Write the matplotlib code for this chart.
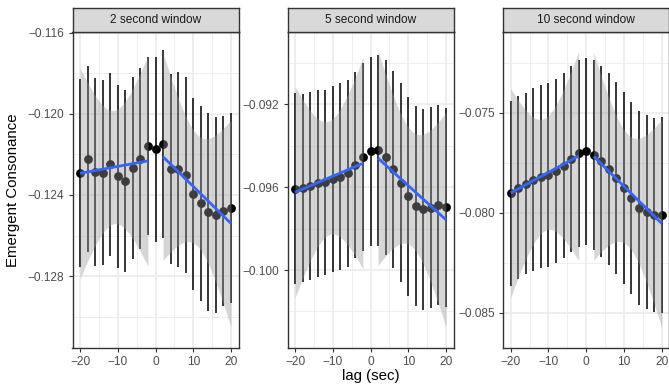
import numpy as np
import matplotlib
matplotlib.use("Agg")
import matplotlib.pyplot as plt
from matplotlib.ticker import FixedLocator, FuncFormatter

plt.rcParams['font.family'] = ['Liberation Sans', 'DejaVu Sans']

# ---------------- data ----------------
lag = [-20, -18, -16, -14, -12, -10, -8, -6, -4, -2, 0,
       2, 4, 6, 8, 10, 12, 14, 16, 18, 20]

panel_titles = ["2 second window", "5 second window", "10 second window"]

cons_2s = [-0.122912, -0.122229, -0.122870, -0.122895, -0.122493, -0.123085,
           -0.123307, -0.122680, -0.122212, -0.121581, -0.121746, -0.121482,
           -0.122722, -0.122732, -0.123018, -0.123948, -0.124416, -0.124851,
           -0.124991, -0.124792, -0.124646]
err_2s = [0.004629, 0.004602, 0.004621, 0.004562, 0.004505, 0.004505,
          0.004481, 0.004481, 0.004456, 0.004397, 0.004562, 0.004629,
          0.004685, 0.004809, 0.004819, 0.004742, 0.004816, 0.004875,
          0.004819, 0.004685, 0.004700]

cons_5s = [-0.096065, -0.096041, -0.095930, -0.095809, -0.095761, -0.095585,
           -0.095486, -0.095326, -0.094938, -0.094537, -0.094272, -0.094216,
           -0.094554, -0.095133, -0.095783, -0.096430, -0.096896, -0.097065,
           -0.096990, -0.096847, -0.096968]
err_5s = [0.004603, 0.004546, 0.004546, 0.004507, 0.004473, 0.004490,
          0.004507, 0.004507, 0.004490, 0.004524, 0.004548, 0.004603,
          0.004700, 0.004763, 0.004804, 0.004804, 0.004821, 0.004845,
          0.004852, 0.004821, 0.004797]

cons_10s = [-0.079033, -0.078740, -0.078540, -0.078340, -0.078205, -0.078108,
            -0.077923, -0.077648, -0.077300, -0.077033, -0.076933, -0.077115,
            -0.077433, -0.077823, -0.078265, -0.078765, -0.079265, -0.079758,
            -0.079965, -0.080130, -0.080100]
err_10s = [0.004618, 0.004575, 0.004540, 0.004560, 0.004575, 0.004593,
           0.004608, 0.004633, 0.004650, 0.004668, 0.004683, 0.004750,
           0.004768, 0.004793, 0.004815, 0.004815, 0.004815, 0.004858,
           0.004850, 0.004850, 0.004900]

# confidence band half-width at the centre of each fit (negative lags, positive lags)
band_2s = [0.002796, 0.002747]
band_5s = [0.002745, 0.002786]
band_10s = [0.002810, 0.002790]

yticks_2s = [-0.128, -0.124, -0.120, -0.116]
yticks_5s = [-0.100, -0.096, -0.092]
yticks_10s = [-0.085, -0.080, -0.075]
xticks = [-20, -10, 0, 10, 20]

# ---------------- layout ----------------
W, H = 669, 392
fig = plt.figure(figsize=(W / 100, H / 100), dpi=100)

lefts = [72.5, 287.5, 503.2]
pw = 166.0
ptop, pbot = 32.0, 347.7
strip_top = 8.3
ylims = [(-0.131530, -0.115965), (-0.103751, -0.088509), (-0.086750, -0.070965)]
yminors = [[-0.130, -0.126, -0.122, -0.118],
           [-0.102, -0.098, -0.094, -0.090],
           [-0.0825, -0.0775, -0.0725]]

series = [(cons_2s, err_2s, band_2s, yticks_2s),
          (cons_5s, err_5s, band_5s, yticks_5s),
          (cons_10s, err_10s, band_10s, yticks_10s)]

BORDER = '#333333'
GRID = '#EBEBEB'
TXT = '#4D4D4D'


def fmt(v, pos):
    return f"{v:.3f}".replace('-', '\u2212')


lag_arr = np.array(lag, dtype=float)

for i, (cons, err, band, yt) in enumerate(series):
    ax = fig.add_axes([lefts[i] / W, (H - pbot) / H, pw / W, (pbot - ptop) / H])
    ax.set_xlim(-22, 22)
    ax.set_ylim(*ylims[i])
    cons = np.array(cons)
    err = np.array(err)

    # grid
    for xv in [-15, -5, 5, 15]:
        ax.axvline(xv, color=GRID, lw=0.6, zorder=0)
    for xv in xticks:
        ax.axvline(xv, color=GRID, lw=1.2, zorder=0)
    for yv in yminors[i]:
        ax.axhline(yv, color=GRID, lw=0.6, zorder=0)
    for yv in yt:
        ax.axhline(yv, color=GRID, lw=1.2, zorder=0)

    # points and error bars
    ax.scatter(lag_arr, cons, s=40, color='black', zorder=2, linewidths=0)
    ax.vlines(lag_arr, cons - err, cons + err, color='black', lw=1.1, zorder=3)

    # linear fits for negative and positive lags with confidence band
    for side, mask in enumerate([lag_arr < 0, lag_arr > 0]):
        xs = lag_arr[mask]
        ys = cons[mask]
        b, a = np.polyfit(xs, ys, 1)
        xm = xs.mean()
        sxx = ((xs - xm) ** 2).sum()
        xg = np.linspace(xs.min(), xs.max(), 80)
        fit = a + b * xg
        hw = band[side] * np.sqrt(1 + len(xs) * (xg - xm) ** 2 / sxx)
        ax.fill_between(xg, fit - hw, fit + hw, color='#999999', alpha=0.4,
                        lw=0, zorder=4)
        ax.plot(xg, fit, color='#3366FF', lw=2.0, zorder=5, solid_capstyle='butt')

    ax.xaxis.set_major_locator(FixedLocator(xticks))
    ax.yaxis.set_major_locator(FixedLocator(yt))
    ax.yaxis.set_major_formatter(FuncFormatter(fmt))
    ax.xaxis.set_major_formatter(FuncFormatter(lambda v, p: f"{v:.0f}".replace('-', '\u2212')))
    ax.tick_params(axis='both', length=3.0, width=0.8, color=BORDER,
                   labelsize=8.6, labelcolor=TXT, pad=3.0)
    for sp in ax.spines.values():
        sp.set_color(BORDER)
        sp.set_linewidth(1.0)
    ax.set_facecolor('white')

    # strip
    sax = fig.add_axes([lefts[i] / W, (H - ptop) / H, pw / W, (ptop - strip_top) / H])
    sax.set_facecolor('#D9D9D9')
    sax.set_xticks([])
    sax.set_yticks([])
    for sp in sax.spines.values():
        sp.set_color(BORDER)
        sp.set_linewidth(1.0)
    sax.text(0.5, 0.5, panel_titles[i], ha='center', va='center',
             fontsize=8.6, color='#1A1A1A', transform=sax.transAxes)

fig.text((lefts[0] + lefts[2] + pw) / 2 / W, 1 - 376 / H, "lag (sec)",
         ha='center', va='center', fontsize=10.8, color='black')
fig.text(13 / W, 1 - (ptop + pbot) / 2 / H, "Emergent Consonance",
         ha='center', va='center', rotation=90, fontsize=10.8, color='black')

fig.savefig("out.png", dpi=100, facecolor='white')
